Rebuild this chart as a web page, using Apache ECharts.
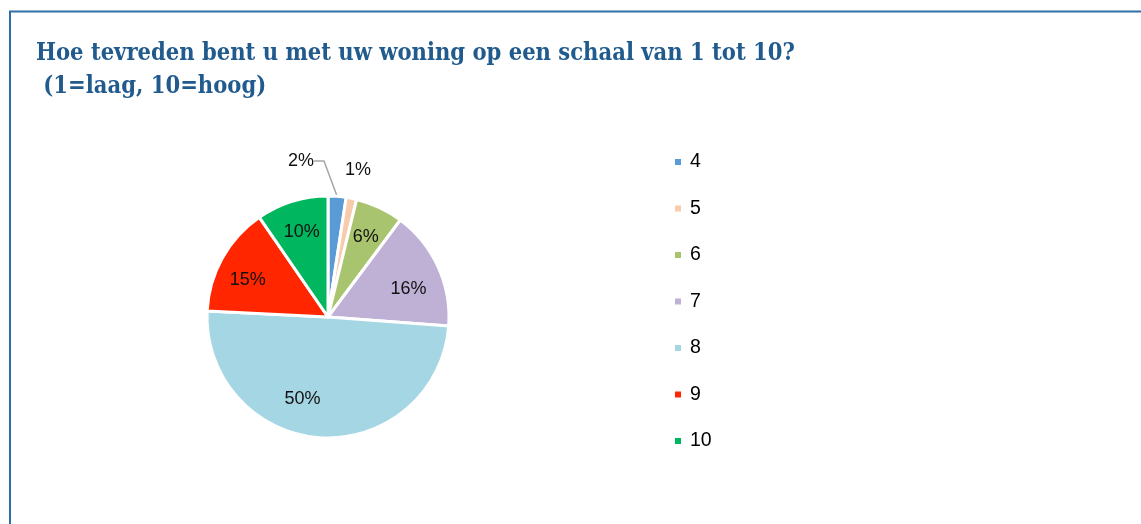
<!DOCTYPE html>
<html>
<head>
<meta charset="utf-8">
<script src="https://cdn.jsdelivr.net/npm/echarts@6/dist/echarts.min.js"></script>
<style>
  html, body { margin: 0; padding: 0; background: #fff; }
  #tevredenheid { width: 1141px; height: 524px; }
</style>
</head>
<body>
<div id="tevredenheid"></div>
<script>
// cijfers 4 t/m 10 (aandeel in %)
var cijfers = ['4', '5', '6', '7', '8', '9', '10'];
var aandeel = [2.4, 1.4, 6.4, 16.0, 49.6, 14.6, 9.6];
var kleuren = ['#5B9BD5', '#F8CBAD', '#A9C46E', '#BFB1D5', '#A5D6E3', '#FF2600', '#00B65E'];

var myChart = echarts.init(document.getElementById('tevredenheid'));

var pieData = [];
var labelData = [];
for (var i = 0; i < cijfers.length; i++) {
    pieData.push({
        name: cijfers[i],
        value: aandeel[i],
        itemStyle: { color: kleuren[i] }
    });
    var item = {
        name: cijfers[i],
        value: aandeel[i]
    };
    // kleine segmenten: label buiten de taart
    if (i === 0) {
        item.label = { position: 'outside' };
        item.labelLine = { show: true };
    }
    if (i === 1) {
        item.label = { position: 'outside' };
        item.labelLine = { show: false };
    }
    labelData.push(item);
}

var option = {
    backgroundColor: '#fff',
    title: {
        text: 'Hoe tevreden bent u met uw woning op een schaal van 1 tot 10?\n (1=laag, 10=hoog)',
        left: 31,
        top: 32,
        textStyle: {
            fontFamily: 'DejaVu Serif Condensed',
            fontWeight: 'bold',
            fontSize: 23.5,
            lineHeight: 33,
            color: '#215A8D'
        }
    },
    graphic: [{
        type: 'rect',
        shape: { x: 10, y: 11.5, width: 1200, height: 600 },
        style: { fill: 'none', stroke: '#2F6EA6', lineWidth: 2 }
    }],
    legend: {
        orient: 'vertical',
        left: 673,
        top: 152,
        padding: 0,
        itemWidth: 8,
        itemHeight: 8,
        itemGap: 26.5,
        icon: 'rect',
        data: cijfers,
        textStyle: {
            fontFamily: 'Liberation Sans',
            fontSize: 19.5,
            lineHeight: 20,
            padding: [0, 0, 0, 3],
            color: '#000'
        }
    },
    series: [{
        // de taart zelf
        type: 'pie',
        center: [328, 317],
        radius: 121,
        startAngle: 90,
        clockwise: true,
        animation: false,
        itemStyle: { borderColor: '#fff', borderWidth: 3 },
        label: { show: false },
        labelLine: { show: false },
        data: pieData
    }, {
        // alleen de percentages, iets verder naar buiten
        type: 'pie',
        center: [328, 317],
        radius: [50, 121],
        startAngle: 90,
        clockwise: true,
        animation: false,
        silent: true,
        itemStyle: { color: 'transparent', borderWidth: 0 },
        label: {
            show: true,
            position: 'inside',
            formatter: function (p) { return Math.round(p.value) + '%'; },
            fontFamily: 'Liberation Sans',
            fontSize: 18,
            color: '#111'
        },
        labelLine: {
            length: 8,
            length2: 10,
            lineStyle: { color: '#A6A6A6', width: 1.5 }
        },
        labelLayout: function (p) {
            if (p.dataIndex === 0) {
                return { x: 314, y: 161, align: 'right', verticalAlign: 'middle' };
            }
            if (p.dataIndex === 1) {
                return { x: 345, y: 170, align: 'left', verticalAlign: 'middle' };
            }
            if (p.dataIndex === 3) {
                return { dy: 9 };
            }
            if (p.dataIndex === 4) {
                return { dx: -20, dy: -6 };
            }
            if (p.dataIndex === 5) {
                return { dx: -3, dy: 6 };
            }
        },
        data: labelData
    }]
};

myChart.setOption(option);
</script>
</body>
</html>
